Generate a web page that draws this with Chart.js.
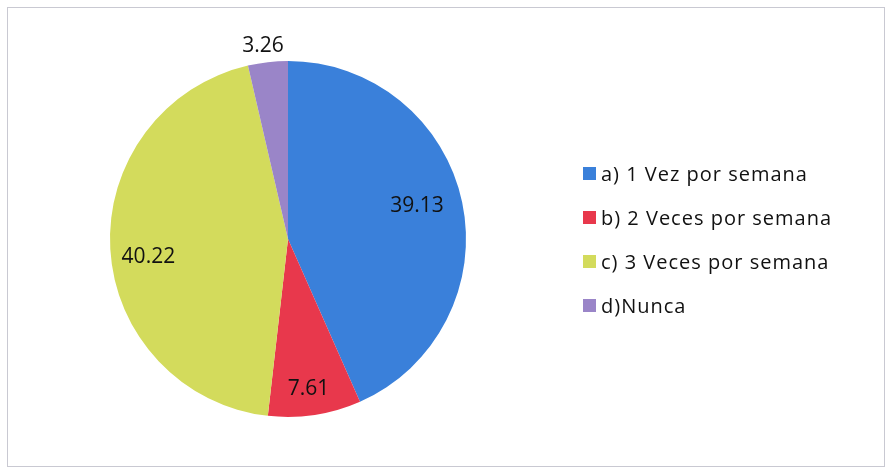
<!DOCTYPE html>
<html>
<head>
<meta charset="utf-8">
<script src="https://cdn.jsdelivr.net/npm/chart.js@4"></script>
<style>
  html, body { margin: 0; padding: 0; background: #fff; }
  #wrap { position: relative; width: 890px; height: 471px; }
  #frame { position: absolute; left: 7px; top: 7px; width: 878px; height: 460px; border: 1px solid #c9c9d2; box-sizing: border-box; }
  canvas { position: absolute; left: 0; top: 0; }
  #legend { position: absolute; left: 583px; top: 151px; font-family: "Open Sans", sans-serif; font-size: 20px; letter-spacing: 1px; color: #111; }
  #legend div { display: flex; align-items: center; height: 44px; }
  #legend span.box { display: inline-block; width: 13px; height: 13px; margin-right: 5px; }
</style>
</head>
<body>
<div id="wrap">
  <div id="frame"></div>
  <canvas id="pie" width="890" height="471"></canvas>
  <div id="legend"></div>
</div>
<script>
const categories = ['a) 1 Vez por semana', 'b) 2 Veces por semana', 'c) 3 Veces por semana', 'd)Nunca'];
const values = [39.13, 7.61, 40.22, 3.26];
const labels = ['39.13', '7.61', '40.22', '3.26'];
const colors = ['#3a80da', '#e8384c', '#d3db5c', '#9a85c8'];

// label placement: fraction of radius, and a small angle nudge in degrees
const labelRadius = [0.75, 0.84, 0.79, 1.10];
const labelNudge = [-2.9, 0.8, -3.6, -0.8];

const valueLabels = {
  id: 'valueLabels',
  afterDatasetsDraw(chart) {
    const ctx = chart.ctx;
    const arcs = chart.getDatasetMeta(0).data;
    const size = 21;
    ctx.save();
    ctx.font = size + 'px "Open Sans", sans-serif';
    ctx.fillStyle = '#111';
    ctx.textAlign = 'center';
    ctx.textBaseline = 'alphabetic';
    arcs.forEach((arc, i) => {
      const mid = (arc.startAngle + arc.endAngle) / 2 + labelNudge[i] * Math.PI / 180;
      const r = arc.outerRadius * labelRadius[i];
      ctx.fillText(labels[i], arc.x + Math.cos(mid) * r, arc.y + Math.sin(mid) * r + size * 0.36);
    });
    ctx.restore();
  }
};

new Chart(document.getElementById('pie'), {
  type: 'pie',
  data: {
    labels: categories,
    datasets: [{
      data: values,
      backgroundColor: colors,
      borderWidth: 0
    }]
  },
  options: {
    responsive: false,
    animation: false,
    layout: { padding: { left: 110, right: 424, top: 61, bottom: 54 } },
    plugins: {
      legend: { display: false },
      tooltip: { enabled: false }
    }
  },
  plugins: [valueLabels]
});

document.getElementById('legend').innerHTML = categories.map((c, i) =>
  `<div><span class="box" style="background:${colors[i]}"></span>${c}</div>`
).join('');
</script>
</body>
</html>
